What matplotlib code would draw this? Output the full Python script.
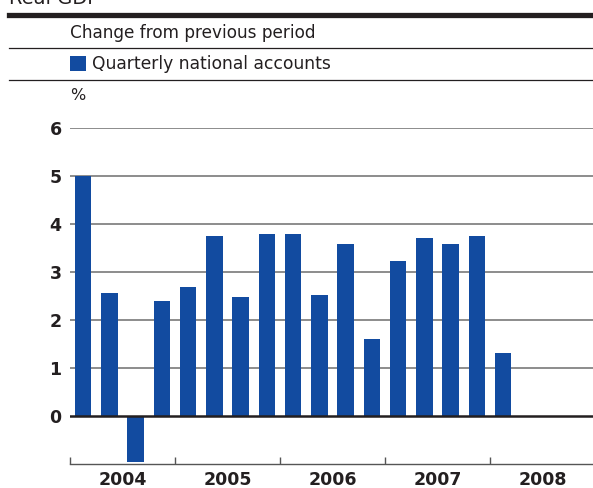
import matplotlib.pyplot as plt
from matplotlib.patches import Rectangle
from matplotlib.transforms import blended_transform_factory

# Real GDP, change from previous quarter (%), 2004Q1 - 2008Q1
quarters = ["2004Q1", "2004Q2", "2004Q3", "2004Q4",
            "2005Q1", "2005Q2", "2005Q3", "2005Q4",
            "2006Q1", "2006Q2", "2006Q3", "2006Q4",
            "2007Q1", "2007Q2", "2007Q3", "2007Q4",
            "2008Q1"]
growth = [5.0, 2.57, -0.96, 2.39,
          2.68, 3.74, 2.47, 3.80,
          3.80, 2.53, 3.59, 1.61,
          3.22, 3.70, 3.59, 3.76,
          1.32]
years = ["2004", "2005", "2006", "2007", "2008"]
yticks = [0, 1, 2, 3, 4, 5, 6]

BLUE = "#124ba0"
TXT = "#231f20"
plt.rcParams["font.family"] = ["DejaVu Sans"]

W, H = 593, 488
fig = plt.figure(figsize=(W / 100, H / 100), dpi=100)

def fx(px):
    return px / W

def fy(py):
    return 1 - py / H

# header rules and labels
fig.add_artist(plt.Line2D([fx(9), 1], [fy(14.5), fy(14.5)], color=TXT, lw=3.8))
fig.add_artist(plt.Line2D([fx(9), 1], [fy(47.5), fy(47.5)], color=TXT, lw=0.9))
fig.add_artist(plt.Line2D([fx(9), 1], [fy(79.5), fy(79.5)], color=TXT, lw=0.9))
fig.text(fx(9), fy(4), "Real GDP", fontsize=14, color=TXT, va="baseline")
fig.text(fx(70), fy(32.5), "Change from previous period", fontsize=12.2,
         color=TXT, va="center")
fig.add_artist(Rectangle((fx(70), fy(71)), fx(16), 15 / H,
                         transform=fig.transFigure, color=BLUE, lw=0))
fig.text(fx(92), fy(64), "Quarterly national accounts", fontsize=12.3,
         color=TXT, va="center")
fig.text(fx(70), fy(96), "%", fontsize=11.5, color=TXT, va="center")

# plot area: x from 70px, 26.25px per quarter; y from -1 to 6
ax = fig.add_axes([fx(70), fy(464), fx(525), 336 / H])
ax.set_xlim(0, 20)
ax.set_ylim(-1, 6)

for y in yticks[1:]:
    ax.axhline(y, color="#8c8c8c", lw=1.4, zorder=1)
ax.axhline(0, color=TXT, lw=1.8, zorder=3)

xpos = [i + 0.5 for i in range(len(growth))]
ax.bar(xpos, growth, width=0.62, color=BLUE, zorder=2)

for s in ["left", "right", "top"]:
    ax.spines[s].set_visible(False)
ax.spines["bottom"].set_color("#555555")
ax.spines["bottom"].set_linewidth(1.0)

ax.set_yticks(yticks)
ax.set_yticklabels([str(v) for v in yticks], fontsize=12.5,
                   fontweight="bold", color=TXT)
ax.tick_params(axis="y", length=0, pad=6)

ax.set_xticks([0, 4, 8, 12, 16, 20])
ax.set_xticklabels([])
ax.tick_params(axis="x", direction="in", length=5, width=1.0, color="#555555")

trans = blended_transform_factory(ax.transData, fig.transFigure)
for i, yr in enumerate(years):
    ax.text(i * 4 + 2, fy(480), yr, transform=trans, ha="center",
            va="center", fontsize=12.5, fontweight="bold", color=TXT)

fig.savefig("out.png", dpi=100)
